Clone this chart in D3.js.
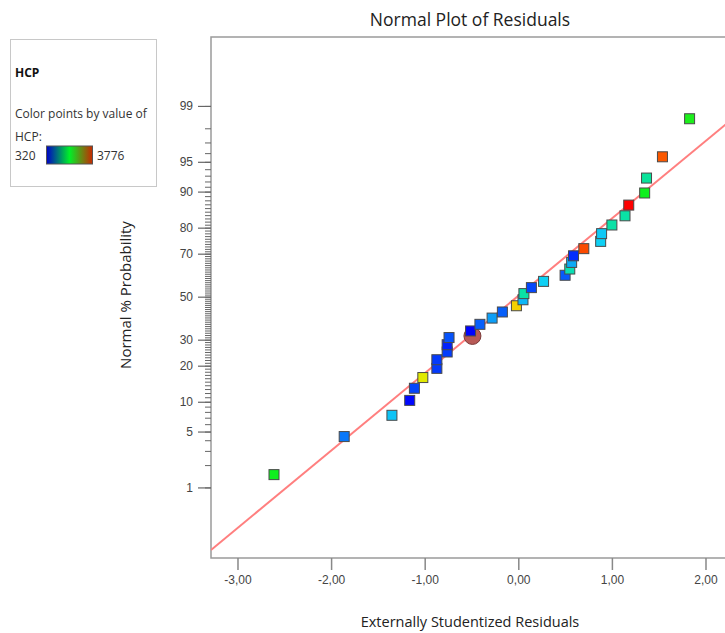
<!DOCTYPE html>
<html>
<head>
<meta charset="utf-8">
<script src="https://cdn.jsdelivr.net/npm/d3@7"></script>
<style>
  body { margin: 0; background: #fff; }
  svg { display: block; font-family: "Open Sans", "Noto Sans", sans-serif; }
</style>
</head>
<body>
<div id="chart"></div>
<script>
// residuals (x), sorted by rank
const residuals = [-2.61, -1.86, -1.35, -1.16, -1.11, -1.02, -0.87, -0.87, -0.76, -0.76,
  -0.74, -0.51, -0.41, -0.28, -0.17, -0.02, 0.05, 0.06, 0.14, 0.27,
  0.50, 0.55, 0.57, 0.59, 0.70, 0.88, 0.89, 1.00, 1.14, 1.18,
  1.35, 1.37, 1.54, 1.83];
// normal % probability of each point
const probs = [1.5, 4.4, 7.4, 10.3, 13.2, 16.2, 19.1, 22.1, 25.0, 27.9,
  30.9, 33.8, 36.8, 39.7, 42.6, 45.6, 48.5, 51.5, 54.4, 57.4,
  60.3, 63.2, 66.2, 69.1, 72.1, 75.0, 77.9, 80.9, 83.8, 86.8,
  89.7, 92.6, 95.6, 98.5];
// HCP value of each point (for colour)
const hcp = [2100, 800, 1100, 350, 600, 2850, 550, 550, 560, 450,
  650, 330, 700, 950, 700, 3000, 1050, 1500, 600, 1150,
  680, 1450, 1000, 500, 3500, 1150, 1120, 1500, 1500, 3776,
  2100, 1550, 3450, 2150];
const hcpMin = 320, hcpMax = 3776;

// highlighted point (circle)
const highlight = {x: -0.49, p: 31.6};

// reference line z = slope * x + intercept
const lineSlope = 0.944, lineIntercept = 0.01;

const xTicks = [-3, -2, -1, 0, 1, 2];
const probTicks = [1, 5, 10, 20, 30, 50, 70, 80, 90, 95, 99];
const probMinor = d3.range(1, 100);

const width = 725, height = 633;
const plot = {left: 211, top: 37, right: 764, bottom: 558};

// inverse normal cdf (Acklam)
function probit(p) {
  const a = [-39.6968302866538, 220.946098424521, -275.928510446969, 138.357751867269, -30.6647980661472, 2.50662827745924];
  const b = [-54.4760987982241, 161.585836858041, -155.698979859887, 66.8013118877197, -13.2806815528857];
  const c = [-0.00778489400243029, -0.322396458041136, -2.40075827716184, -2.54973253934373, 4.37466414146497, 2.93816398269878];
  const d = [0.00778469570904146, 0.32246712907004, 2.445134137143, 3.75440866190742];
  const pl = 0.02425;
  let q, r;
  if (p < pl) {
    q = Math.sqrt(-2 * Math.log(p));
    return (((((c[0]*q+c[1])*q+c[2])*q+c[3])*q+c[4])*q+c[5]) / ((((d[0]*q+d[1])*q+d[2])*q+d[3])*q+1);
  } else if (p <= 1 - pl) {
    q = p - 0.5; r = q * q;
    return (((((a[0]*r+a[1])*r+a[2])*r+a[3])*r+a[4])*r+a[5])*q / (((((b[0]*r+b[1])*r+b[2])*r+b[3])*r+b[4])*r+1);
  } else {
    q = Math.sqrt(-2 * Math.log(1 - p));
    return -(((((c[0]*q+c[1])*q+c[2])*q+c[3])*q+c[4])*q+c[5]) / ((((d[0]*q+d[1])*q+d[2])*q+d[3])*q+1);
  }
}

const x = d3.scaleLinear().domain([-3.283, 2.625]).range([plot.left, plot.right]);
const y = d3.scaleLinear().domain([-3.187, 3.167]).range([plot.bottom, plot.top]);

const color = d3.scaleLinear()
  .domain([0, 0.25, 0.5, 0.75, 1].map(f => hcpMin + f * (hcpMax - hcpMin)))
  .range(["#0000ff", "#10d8f4", "#00f020", "#f4e800", "#ff0000"]);

const locale = d3.formatLocale({decimal: ",", thousands: ".", grouping: [3], currency: ["", ""], minus: "-"});
const fmt = locale.format(".2f");

const svg = d3.select("#chart").append("svg")
  .attr("width", width).attr("height", height);

svg.append("defs").append("clipPath").attr("id", "clip")
  .append("rect")
  .attr("x", plot.left).attr("y", plot.top)
  .attr("width", plot.right - plot.left).attr("height", plot.bottom - plot.top);

// title
svg.append("text")
  .attr("x", 470).attr("y", 26)
  .attr("text-anchor", "middle")
  .attr("font-size", 17.5).attr("fill", "#222")
  .text("Normal Plot of Residuals");

// frame
svg.append("rect")
  .attr("x", plot.left).attr("y", plot.top)
  .attr("width", plot.right - plot.left).attr("height", plot.bottom - plot.top)
  .attr("fill", "none").attr("stroke", "#9a9a9a").attr("stroke-width", 1.5);

// x axis
const gx = svg.append("g")
  .attr("transform", `translate(0,${plot.bottom})`)
  .call(d3.axisBottom(x).tickValues(xTicks).tickFormat(fmt).tickSize(12).tickPadding(5));
gx.select(".domain").remove();
gx.selectAll("line").attr("stroke", "#888").attr("stroke-width", 1.5);
gx.selectAll("text").attr("font-size", 12).attr("fill", "#444").attr("font-family", null);

// y axis, major and minor ticks
const gyMinor = svg.append("g")
  .attr("transform", `translate(${plot.left},0)`)
  .call(d3.axisLeft(y).tickValues(probMinor.map(p => probit(p / 100))).tickFormat("").tickSize(6));
gyMinor.select(".domain").remove();
gyMinor.selectAll("line").attr("stroke", "#666").attr("stroke-width", 1);

const gy = svg.append("g")
  .attr("transform", `translate(${plot.left},0)`)
  .call(d3.axisLeft(y)
    .tickValues(probTicks.map(p => probit(p / 100)))
    .tickFormat((d, i) => probTicks[i])
    .tickSize(13).tickPadding(5));
gy.select(".domain").remove();
gy.selectAll("line").attr("stroke", "#666").attr("stroke-width", 1.2);
gy.selectAll("text").attr("font-size", 12).attr("fill", "#444").attr("font-family", null);

// axis titles
svg.append("text")
  .attr("x", 470).attr("y", 627)
  .attr("text-anchor", "middle")
  .attr("font-size", 14.5).attr("fill", "#222")
  .text("Externally Studentized Residuals");

svg.append("text")
  .attr("transform", `translate(131,295) rotate(-90)`)
  .attr("text-anchor", "middle")
  .attr("font-size", 15).attr("fill", "#222")
  .text("Normal % Probability");

const body = svg.append("g").attr("clip-path", "url(#clip)");

// reference line
const lineX = x.domain();
body.append("line")
  .attr("x1", x(lineX[0])).attr("y1", y(lineSlope * lineX[0] + lineIntercept))
  .attr("x2", x(lineX[1])).attr("y2", y(lineSlope * lineX[1] + lineIntercept))
  .attr("stroke", "#ff7f7f").attr("stroke-width", 2);

// highlighted circle
body.append("circle")
  .attr("cx", x(highlight.x)).attr("cy", y(probit(highlight.p / 100)))
  .attr("r", 8.5)
  .attr("fill", "#b85a56").attr("stroke", "#7a3a38").attr("stroke-width", 1);

// points
const pts = residuals.map((r, i) => ({x: r, p: probs[i], h: hcp[i]}));
const sz = 10;
body.selectAll("rect.pt")
  .data(pts).enter().append("rect")
  .attr("class", "pt")
  .attr("x", d => x(d.x) - sz / 2)
  .attr("y", d => y(probit(d.p / 100)) - sz / 2)
  .attr("width", sz).attr("height", sz)
  .attr("fill", d => color(d.h))
  .attr("stroke", "#4a4a4a").attr("stroke-width", 1);

// legend
const lg = svg.append("g");
lg.append("rect")
  .attr("x", 10.5).attr("y", 39.5).attr("width", 146).attr("height", 147)
  .attr("fill", "#fff").attr("stroke", "#c8c8c8");
lg.append("text").attr("x", 15).attr("y", 77)
  .attr("font-size", 12).attr("font-weight", "bold").attr("fill", "#111").text("HCP");
lg.append("text").attr("x", 15).attr("y", 117.5)
  .attr("font-size", 12).attr("fill", "#333").text("Color points by value of");
lg.append("text").attr("x", 15).attr("y", 141)
  .attr("font-size", 12).attr("fill", "#333").text("HCP:");
lg.append("text").attr("x", 15).attr("y", 159.5)
  .attr("font-size", 12).attr("fill", "#333").text(hcpMin);
lg.append("text").attr("x", 97).attr("y", 159.5)
  .attr("font-size", 12).attr("fill", "#333").text(hcpMax);

const grad = svg.select("defs").append("linearGradient").attr("id", "hcpGrad");
[["0%", "#0000c8"], ["50%", "#00f028"], ["100%", "#c82800"]].forEach(s =>
  grad.append("stop").attr("offset", s[0]).attr("stop-color", s[1]));
lg.append("rect")
  .attr("x", 46.5).attr("y", 146).attr("width", 46).attr("height", 18)
  .attr("fill", "url(#hcpGrad)").attr("stroke", "#555");
</script>
</body>
</html>
